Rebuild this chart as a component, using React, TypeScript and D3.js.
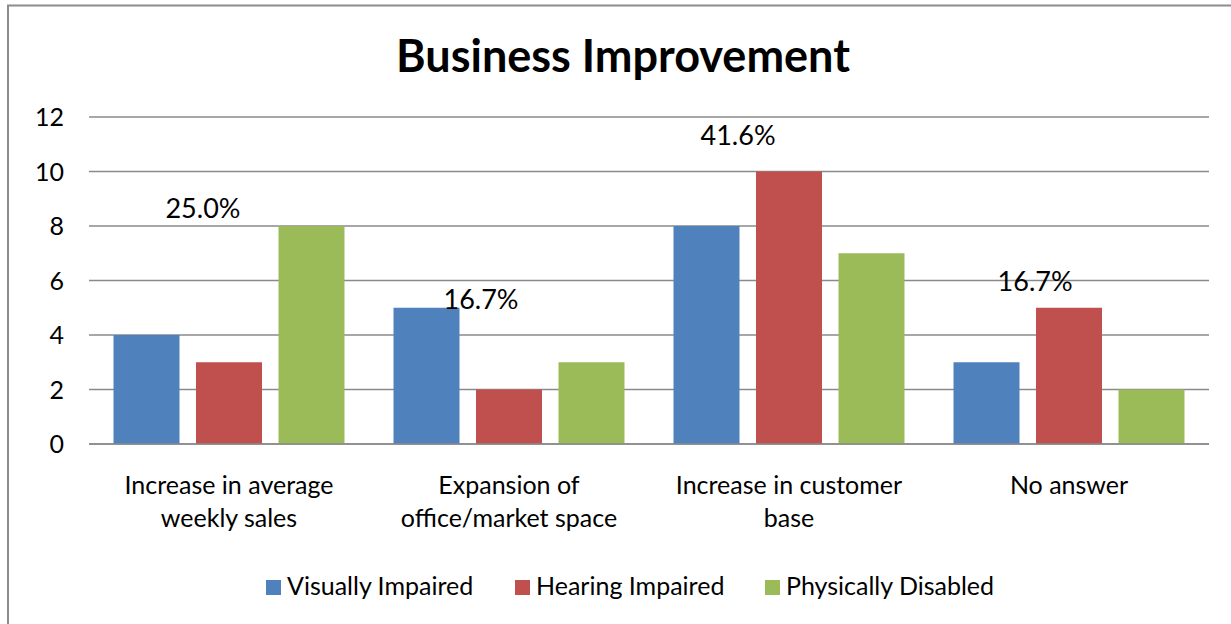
import React from "react";
import * as d3 from "d3";

const categories = [
  "Increase in average weekly sales",
  "Expansion of office/market space",
  "Increase in customer base",
  "No answer",
];
const categoryLines = [
  ["Increase in average", "weekly sales"],
  ["Expansion of", "office/market space"],
  ["Increase in customer", "base"],
  ["No answer"],
];
const seriesNames = ["Visually Impaired", "Hearing Impaired", "Physically Disabled"];
const visuallyImpaired = [4, 5, 8, 3];
const hearingImpaired = [3, 2, 10, 5];
const physicallyDisabled = [8, 3, 7, 2];
const seriesColors = ["#4F81BD", "#C0504D", "#9BBB59"];
const yTicks = [0, 2, 4, 6, 8, 10, 12];
const percentLabels = ["25.0%", "16.7%", "41.6%", "16.7%"];
const percentLabelLevel = [8.3, 4.95, 10.97, 5.6];
const percentLabelShift = [0.407, 0.4, 0.318, 0.379];

const W = 1231;
const H = 624;
const FONT = "Lato, Calibri, 'Open Sans', sans-serif";

export default function App() {
  const seriesValues = [visuallyImpaired, hearingImpaired, physicallyDisabled];
  const x0 = d3.scaleBand<string>().domain(categories).range([89, 1209]).padding(0);
  const x1 = d3
    .scaleBand<string>()
    .domain(seriesNames)
    .range([0, x0.bandwidth()])
    .paddingInner(0.2)
    .paddingOuter(0.297);
  const y = d3.scaleLinear().domain([0, 12]).range([444, 117]);
  const gridColor = "#8a8a8a";

  const legendX = [266, 515, 765];

  return (
    <svg
      width={W}
      height={H}
      style={{ position: "fixed", left: 0, top: 0, background: "#fff" }}
      fontFamily={FONT}
    >
      <rect x={0} y={0} width={W} height={H} fill="#fff" />
      <rect x={8} y={5.5} width={W + 20} height={H + 20} fill="none" stroke="#8c8c8c" strokeWidth={2} />

      <text x={623} y={72} textAnchor="middle" fontSize={45} fontWeight={700} fill="#000">
        Business Improvement
      </text>

      {yTicks.map((t) => (
        <g key={t}>
          <line x1={89} x2={1209} y1={y(t)} y2={y(t)} stroke={gridColor} strokeWidth={1.6} />
          <text x={64} y={y(t) + 9} textAnchor="end" fontSize={25} fill="#000">
            {t}
          </text>
        </g>
      ))}

      {categories.map((c, ci) => (
        <g key={c} transform={`translate(${x0(c)},0)`}>
          {seriesNames.map((s, si) => (
            <rect
              key={s}
              x={x1(s)}
              y={y(seriesValues[si][ci])}
              width={x1.bandwidth()}
              height={y(0) - y(seriesValues[si][ci])}
              fill={seriesColors[si]}
            />
          ))}
        </g>
      ))}

      <line x1={89} x2={1209} y1={y(0)} y2={y(0)} stroke={gridColor} strokeWidth={1.6} />

      {categories.map((c, ci) => (
        <text
          key={c}
          x={(x0(c) as number) + x0.bandwidth() * percentLabelShift[ci]}
          y={y(percentLabelLevel[ci])}
          textAnchor="middle"
          fontSize={27}
          fill="#000"
        >
          {percentLabels[ci]}
        </text>
      ))}

      {categories.map((c, ci) => (
        <text
          key={c}
          x={(x0(c) as number) + x0.bandwidth() / 2}
          y={y(0) + 50}
          textAnchor="middle"
          fontSize={25}
          fill="#000"
        >
          {categoryLines[ci].map((ln, li) => (
            <tspan key={li} x={(x0(c) as number) + x0.bandwidth() / 2} dy={li === 0 ? 0 : 33}>
              {ln}
            </tspan>
          ))}
        </text>
      ))}

      {seriesNames.map((s, si) => (
        <g key={s}>
          <rect x={legendX[si]} y={580} width={15} height={15} fill={seriesColors[si]} />
          <text x={legendX[si] + 21} y={595} fontSize={25} fill="#000">
            {s}
          </text>
        </g>
      ))}
    </svg>
  );
}
